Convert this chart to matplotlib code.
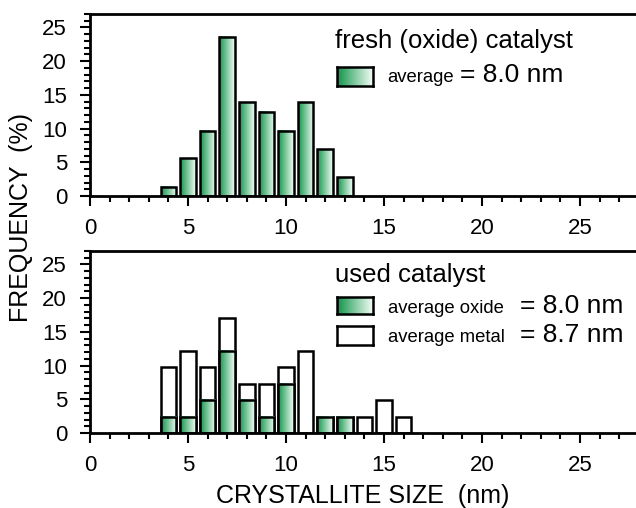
import numpy as np
import matplotlib
matplotlib.use('Agg')
import matplotlib.pyplot as plt
from matplotlib.colors import LinearSegmentedColormap
from matplotlib.patches import Rectangle
from matplotlib.ticker import MultipleLocator

# datos
sizes_fresh = [4, 5, 6, 7, 8, 9, 10, 11, 12, 13]
freq_fresh = [1.4, 5.6, 9.7, 23.6, 13.9, 12.5, 9.7, 13.9, 6.9, 2.8]

sizes_used = [4, 5, 6, 7, 8, 9, 10, 11, 12, 13, 14, 15, 16]
freq_metal = [9.8, 12.2, 9.8, 17.1, 7.3, 7.3, 9.8, 12.2, 2.4, 2.4, 2.4, 4.9, 2.4]
freq_oxide = [2.4, 2.4, 4.9, 12.2, 4.9, 2.4, 7.3, 0, 2.4, 2.4, 0, 0, 0]

x_ticks = [0, 5, 10, 15, 20, 25]
y_ticks = [0, 5, 10, 15, 20, 25]

plt.rcParams['font.family'] = ['Liberation Sans', 'DejaVu Sans']

W, H = 636, 508
fig = plt.figure(figsize=(6.36, 5.08), dpi=100)

verde = LinearSegmentedColormap.from_list('verde', ['#12954a', '#f2fbf5'])
grad = np.linspace(0, 1, 64).reshape(1, -1)
ancho = 0.8
lw = 1.8


def px(x, y):
    return x / W, 1 - y / H


def barra(ax, x, h, relleno):
    if h <= 0:
        return
    if relleno == 'grad':
        ax.imshow(grad, cmap=verde, aspect='auto', extent=[x - ancho / 2, x + ancho / 2, 0, h], zorder=2)
        r = Rectangle((x - ancho / 2, 0), ancho, h, facecolor='none', edgecolor='black', lw=lw, zorder=3)
    else:
        r = Rectangle((x - ancho / 2, 0), ancho, h, facecolor='white', edgecolor='black', lw=lw, zorder=1)
    ax.add_patch(r)


def ejes(ax):
    ax.set_xlim(0, 27.86)
    ax.set_ylim(0, 27)
    ax.xaxis.set_minor_locator(MultipleLocator(1))
    ax.yaxis.set_minor_locator(MultipleLocator(1))
    ax.set_xticks(x_ticks)
    ax.set_yticks(y_ticks)
    ax.tick_params(which='both', direction='out', width=1.5, labelsize=16, top=False, right=False)
    ax.tick_params(which='major', length=7)
    ax.tick_params(which='minor', length=4)
    ax.tick_params(axis='x', which='major', pad=8.5)
    ax.tick_params(axis='y', which='major', pad=9.5)
    for s in ['left', 'bottom', 'top']:
        ax.spines[s].set_linewidth(2)
    ax.spines['right'].set_visible(False)


ax1 = fig.add_axes([90 / W, (H - 196) / H, 1 - 90 / W, 182 / H])
ax2 = fig.add_axes([90 / W, (H - 433) / H, 1 - 90 / W, 182 / H])

for x, h in zip(sizes_fresh, freq_fresh):
    barra(ax1, x, h, 'grad')

for x, h in zip(sizes_used, freq_metal):
    barra(ax2, x, h, 'blanco')
for x, h in zip(sizes_used, freq_oxide):
    barra(ax2, x, h, 'grad')

ejes(ax1)
ejes(ax2)
fig.text(*px(363, 496), 'CRYSTALLITE SIZE  (nm)', fontsize=18, ha='center', va='center')
fig.text(*px(21, 218), 'FREQUENCY  (%)', rotation=90, fontsize=18, ha='center', va='center')


# leyendas manuales
def caja(x0, y0, x1, y1, grad_fill):
    a, b = px(x0, y1)
    c, d = px(x1, y0)
    axl = fig.add_axes([a, b, c - a, d - b])
    axl.set_xlim(0, 1)
    axl.set_ylim(0, 1)
    if grad_fill:
        axl.imshow(grad, cmap=verde, aspect='auto', extent=[0, 1, 0, 1])
    axl.set_xticks([])
    axl.set_yticks([])
    for s in axl.spines.values():
        s.set_linewidth(1.8)


fig.text(*px(335, 48), 'fresh (oxide) catalyst', fontsize=18.5, va='baseline')
caja(337, 67, 373, 86, True)
fig.text(*px(387, 82), 'average', fontsize=13.3, va='baseline')
fig.text(*px(460, 82), '= 8.0 nm', fontsize=19, va='baseline')

fig.text(*px(335, 282), 'used catalyst', fontsize=18.5, va='baseline')
caja(337, 297, 373, 314, True)
fig.text(*px(388, 313), 'average oxide', fontsize=13.3, va='baseline')
fig.text(*px(520, 313), '= 8.0 nm', fontsize=19, va='baseline')
caja(337, 326, 373, 345, False)
fig.text(*px(388, 342), 'average metal', fontsize=13.3, va='baseline')
fig.text(*px(520, 342), '= 8.7 nm', fontsize=19, va='baseline')

fig.savefig('out.png', dpi=100)
